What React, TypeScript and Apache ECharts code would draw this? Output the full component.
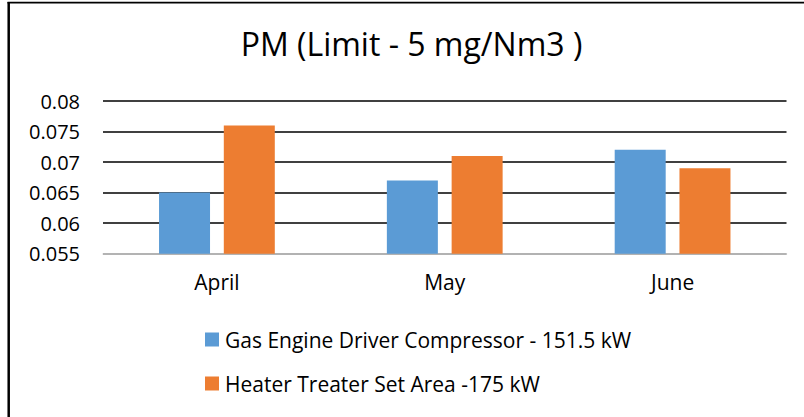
import React, { useEffect, useRef } from "react";
import * as echarts from "echarts";

const titleText = "PM (Limit - 5 mg/Nm3 )";
const categories = ["April", "May", "June"];
const seriesNames = [
  "Gas Engine Driver Compressor - 151.5 kW",
  "Heater Treater Set Area -175 kW",
];
const gasEngineValues = [0.065, 0.067, 0.072];
const heaterTreaterValues = [0.076, 0.071, 0.069];
const yMin = 0.055;
const yMax = 0.08;
const yStep = 0.005;
const colors = ["#5B9BD5", "#ED7D31"];

const FONT = "'Open Sans', sans-serif";

export default function App() {
  const ref = useRef<HTMLDivElement>(null);

  useEffect(() => {
    if (!ref.current) return;
    const chart = echarts.init(ref.current, undefined, { renderer: "svg" });
    chart.setOption({
      animation: false,
      backgroundColor: "#ffffff",
      title: {
        text: titleText,
        left: 411.5,
        textAlign: "center",
        top: 27,
        padding: 0,
        textStyle: {
          fontFamily: FONT,
          fontSize: 32,
          fontWeight: "normal",
          color: "#000000",
        },
      },
      legend: {
        orient: "vertical",
        left: 205,
        top: 329,
        itemWidth: 14,
        itemHeight: 14,
        itemGap: 23,
        padding: 0,
        icon: "rect",
        data: seriesNames,
        textStyle: {
          fontFamily: FONT,
          fontSize: 21,
          color: "#000000",
          padding: [0, 0, 0, 1],
        },
      },
      grid: {
        left: 103,
        right: 17.5,
        top: 101,
        bottom: 163.3,
        containLabel: false,
      },
      xAxis: {
        type: "category",
        data: categories,
        axisLine: { lineStyle: { color: "#d9d9d9", width: 1.5 } },
        axisTick: { show: false },
        axisLabel: {
          fontFamily: FONT,
          fontSize: 21,
          color: "#000000",
          margin: 18,
        },
      },
      yAxis: {
        type: "value",
        min: yMin,
        max: yMax,
        interval: yStep,
        axisLine: { show: false },
        axisTick: { show: false },
        axisLabel: {
          fontFamily: FONT,
          fontSize: 20,
          color: "#000000",
          margin: 23,
          formatter: (v: number) => String(+v.toFixed(3)),
        },
        splitLine: {
          show: true,
          lineStyle: { color: "#000000", width: 1.6 },
        },
      },
      series: [
        {
          name: seriesNames[0],
          type: "bar",
          data: gasEngineValues,
          barWidth: 51,
          barGap: "27%",
          itemStyle: { color: colors[0] },
          z: 3,
        },
        {
          name: seriesNames[1],
          type: "bar",
          data: heaterTreaterValues,
          barWidth: 51,
          barGap: "27%",
          itemStyle: { color: colors[1] },
          z: 3,
        },
      ],
      graphic: [
        {
          type: "line",
          shape: { x1: 8.7, y1: 2, x2: 8.7, y2: 417 },
          style: { stroke: "#000000", lineWidth: 2.5 },
          z: 10,
        },
        {
          type: "line",
          shape: { x1: 7.5, y1: 2.7, x2: 804, y2: 2.7 },
          style: { stroke: "#000000", lineWidth: 1.8 },
          z: 10,
        },
      ],
    });
    return () => chart.dispose();
  }, []);

  return (
    <div
      ref={ref}
      style={{
        position: "fixed",
        left: 0,
        top: 0,
        width: 804,
        height: 417,
        background: "#ffffff",
      }}
    />
  );
}
